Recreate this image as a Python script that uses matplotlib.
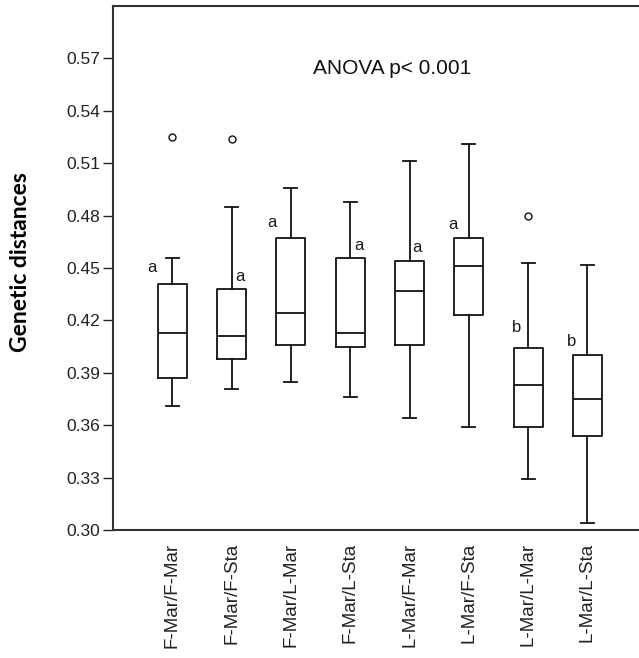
import matplotlib
matplotlib.use("Agg")
import matplotlib.pyplot as plt

# ---- data ----
categories = ["F-Mar/F-Mar", "F-Mar/F-Sta", "F-Mar/L-Mar", "F-Mar/L-Sta",
              "L-Mar/F-Mar", "L-Mar/F-Sta", "L-Mar/L-Mar", "L-Mar/L-Sta"]
whisker_low = [0.371, 0.381, 0.385, 0.376, 0.364, 0.359, 0.329, 0.304]
q1          = [0.387, 0.398, 0.406, 0.405, 0.406, 0.423, 0.359, 0.354]
median      = [0.413, 0.411, 0.424, 0.413, 0.437, 0.451, 0.383, 0.375]
q3          = [0.441, 0.438, 0.467, 0.456, 0.454, 0.467, 0.404, 0.400]
whisker_high= [0.456, 0.485, 0.496, 0.488, 0.511, 0.521, 0.453, 0.452]
outliers    = [[0.525], [0.524], [], [], [], [], [0.480], []]
group_letters = ["a", "a", "a", "a", "a", "a", "b", "b"]
letter_y      = [0.450, 0.445, 0.476, 0.463, 0.462, 0.475, 0.416, 0.408]
letter_dx     = [-0.34, 0.14, -0.32, 0.14, 0.13, -0.26, -0.19, -0.26]
yticks = [0.30, 0.33, 0.36, 0.39, 0.42, 0.45, 0.48, 0.51, 0.54, 0.57]
ytick_labels = ["0.30", "0.33", "0.36", "0.39", "0.42", "0.45", "0.48", "0.51", "0.54", "0.57"]
annotation = "ANOVA p< 0.001"
ylabel = "Genetic distances"

plt.rcParams['font.family'] = ['Liberation Sans', 'DejaVu Sans']

W, H = 639, 658
fig = plt.figure(figsize=(W / 100, H / 100), dpi=100)
ax = fig.add_axes([113 / W, 1 - 530 / H, 1 - 113 / W, (530 - 6) / H])

stats = []
for i, c in enumerate(categories):
    stats.append(dict(label=c, whislo=whisker_low[i], q1=q1[i], med=median[i],
                      q3=q3[i], whishi=whisker_high[i], fliers=outliers[i]))

positions = list(range(1, len(categories) + 1))
lc = "#111111"
ax.bxp(stats, positions=positions, widths=0.49, capwidths=0.22,
       boxprops=dict(color=lc, linewidth=1.3),
       medianprops=dict(color=lc, linewidth=1.3),
       whiskerprops=dict(color=lc, linewidth=1.3),
       capprops=dict(color=lc, linewidth=1.3),
       flierprops=dict(marker="o", markersize=5, markerfacecolor="none",
                       markeredgecolor=lc, markeredgewidth=1.0))

for i, (lt, yv, dx) in enumerate(zip(group_letters, letter_y, letter_dx)):
    ax.text(positions[i] + dx, yv, lt, fontsize=12, color="#1a1a1a",
            ha="center", va="center")

ax.text(4.7, 0.564, annotation, fontsize=15, color="#111111",
        ha="center", va="center")

ax.set_xlim(0, 8.87)
ax.set_ylim(0.30, 0.6)
ax.set_yticks(yticks)
ax.set_yticklabels(ytick_labels, fontsize=12.5, color="#222222")
ax.set_xticks(positions)
ax.set_xticklabels(categories, rotation=90, fontsize=13.5, color="#222222")
ax.tick_params(axis="x", length=0, pad=9)
ax.tick_params(axis="y", length=7, width=1.0, color="#222222", pad=2)

for s in ["left", "top", "bottom"]:
    ax.spines[s].set_linewidth(1.5)
    ax.spines[s].set_color("#333333")
ax.spines["right"].set_visible(False)

fig.text(21 / W, 1 - 262 / H, ylabel, rotation=90, fontsize=16.5,
         fontweight="bold", family=["Lato", "DejaVu Sans"],
         ha="center", va="center", color="#000000")

fig.savefig("out.png", dpi=100)
